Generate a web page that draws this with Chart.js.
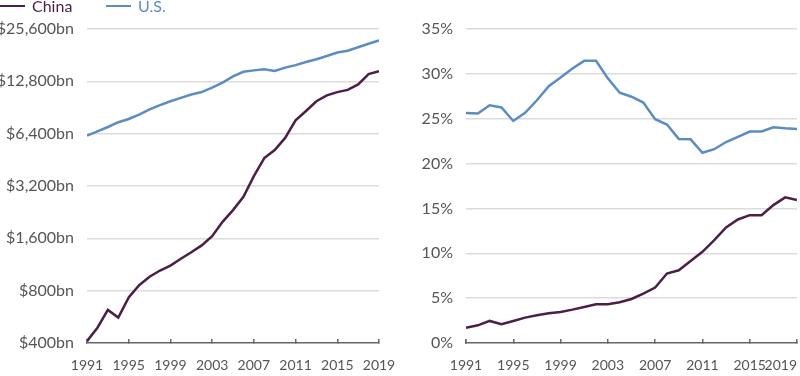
<!DOCTYPE html>
<html>
<head>
<meta charset="utf-8">
<script src="https://cdn.jsdelivr.net/npm/chart.js@4"></script>
<style>
  html, body { margin: 0; padding: 0; background: #fff; overflow: hidden; }
  body { width: 800px; height: 376px; position: relative; font-family: Lato, sans-serif; }
  .box { position: absolute; top: 0; width: 400px; height: 376px; }
  #left { left: 0; }
  #right { left: 400px; }
  #legend { position: absolute; top: -4px; left: 0; font-size: 16px; z-index: 2; }
  #legend span { position: absolute; white-space: nowrap; line-height: 20px; }
  #legend i { display: inline-block; width: 25px; height: 2.5px; vertical-align: middle; margin-right: 7px; position: relative; top: -2px; }
</style>
</head>
<body>
<div id="legend">
  <span style="left:0;color:#4b1f47"><i style="background:#4b1f47"></i>China</span>
  <span style="left:106px;color:#5b8cc2"><i style="background:#5b8cc2"></i>U.S.</span>
</div>
<div class="box" id="left"><canvas id="gdp"></canvas></div>
<div class="box" id="right"><canvas id="share"></canvas></div>
<script>
const years = [1991,1992,1993,1994,1995,1996,1997,1998,1999,2000,2001,2002,2003,2004,2005,2006,2007,2008,2009,2010,2011,2012,2013,2014,2015,2016,2017,2018,2019]
const yearTicks = [1991,1995,1999,2003,2007,2011,2015,2019]

// GDP, billions of dollars (log scale)
const chinaGdp = [410,490,620,560,732,860,962,1045,1115,1220,1330,1457,1645,1990,2325,2770,3650,4630,5150,6050,7640,8640,9830,10630,11100,11430,12280,14080,14650]
const usGdp = [6240,6600,6990,7450,7770,8240,8820,9350,9830,10290,10760,11100,11770,12590,13650,14530,14800,15000,14670,15350,15870,16550,17150,17900,18750,19200,20100,21050,22000]
const gdpTicks = [400,800,1600,3200,6400,12800,25600]

// share of world GDP, %
const chinaShare = [1.7,1.97,2.46,2.09,2.46,2.83,3.09,3.31,3.46,3.72,4.02,4.32,4.32,4.54,4.91,5.51,6.18,7.74,8.11,9.15,10.16,11.46,12.88,13.77,14.25,14.25,15.37,16.23,15.93]
const usShare = [25.65,25.58,26.5,26.25,24.75,25.65,27.06,28.63,29.6,30.6,31.45,31.45,29.5,27.9,27.45,26.8,24.95,24.35,22.75,22.7,21.2,21.6,22.4,22.97,23.57,23.57,24.05,23.94,23.86]
const shareTicks = [0,5,10,15,20,25,30,35]

const purple = '#4b1f47'
const blue = '#5b8cc2'
const tickColor = '#555'
const yFont = {family: 'Lato', size: 16}
const xFont = {family: 'Lato', size: 14}

const pts = (arr) => years.map((y, i) => ({x: y, y: arr[i]}))

const serie = (nome, arr, cor) => ({
  label: nome,
  data: pts(arr),
  borderColor: cor,
  backgroundColor: cor,
  borderWidth: 2.5,
  pointRadius: 0,
  tension: 0
})

// lastRight: the right panel's last label ends at its tick (align 'inner');
// an empty leading tick takes the left alignment so 1991 stays centred
const xAxis = (lastRight) => ({
  type: 'linear',
  min: 1991,
  max: 2019,
  afterBuildTicks: s => {
    const t = yearTicks.map(v => ({value: v}))
    s.ticks = lastRight ? [{value: yearTicks[0]}].concat(t) : t
  },
  afterFit: s => {
    s.height = 33
    s.paddingRight = 0
    s.paddingLeft = 0
  },
  border: {display: true, color: '#666', width: 1.5},
  grid: {drawOnChartArea: false, drawTicks: true, tickLength: -4, color: '#666', lineWidth: 1.5},
  ticks: {
    color: tickColor,
    font: xFont,
    padding: 18,
    maxRotation: 0,
    autoSkip: false,
    align: lastRight ? 'inner' : 'center',
    callback: (v, i) => (lastRight && i === 0) ? '' : String(v)
  }
})

const opts = (yScale, padRight, lastRight) => ({
  responsive: false,
  animation: false,
  layout: {padding: {top: 29, right: padRight, left: 0, bottom: 0}},
  plugins: {legend: {display: false}, tooltip: {enabled: false}},
  scales: {x: xAxis(lastRight), y: yScale}
})

const gridColor = c => c.index === 0 ? 'rgba(0,0,0,0)' : '#dcdcdc'

const cv1 = document.getElementById('gdp')
cv1.width = 400; cv1.height = 376
new Chart(cv1, {
  type: 'line',
  data: {datasets: [serie('China', chinaGdp, purple), serie('U.S.', usGdp, blue)]},
  options: opts({
    type: 'logarithmic',
    min: 400,
    max: 25600,
    afterBuildTicks: s => { s.ticks = gdpTicks.map(v => ({value: v})) },
    afterFit: s => { s.width = 87 },
    border: {display: false},
    grid: {color: gridColor, lineWidth: 1.5, drawTicks: false},
    ticks: {color: tickColor, font: yFont, padding: 13, callback: v => '$' + v.toLocaleString('en-US') + 'bn'}
  }, 21, false)
})

const cv2 = document.getElementById('share')
cv2.width = 400; cv2.height = 376
new Chart(cv2, {
  type: 'line',
  data: {datasets: [serie('China', chinaShare, purple), serie('U.S.', usShare, blue)]},
  options: opts({
    type: 'linear',
    min: 0,
    max: 35,
    afterBuildTicks: s => { s.ticks = shareTicks.map(v => ({value: v})) },
    afterFit: s => { s.width = 66 },
    border: {display: false},
    grid: {color: gridColor, lineWidth: 1.5, drawTicks: false},
    ticks: {color: tickColor, font: yFont, padding: 13, callback: v => v + '%'}
  }, 3, true)
})
</script>
</body>
</html>
